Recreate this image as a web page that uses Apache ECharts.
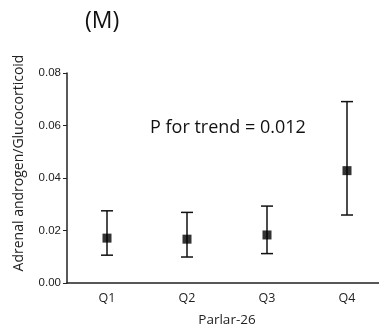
<!DOCTYPE html>
<html>
<head>
<meta charset="utf-8">
<script src="https://cdn.jsdelivr.net/npm/echarts@6/dist/echarts.min.js"></script>
<style>
  html, body { margin: 0; padding: 0; background: #fff; }
  #chart { width: 379px; height: 333px; }
</style>
</head>
<body>
<div id="chart"></div>
<script>
const categories = ['Q1', 'Q2', 'Q3', 'Q4']
const means = [0.0171, 0.0167, 0.0183, 0.0428]
const lower = [0.0106, 0.0099, 0.0112, 0.0259]
const upper = [0.0275, 0.0269, 0.0293, 0.0691]
const yTicks = [0, 0.02, 0.04, 0.06, 0.08]

const chart = echarts.init(document.getElementById('chart'))
const font = '"Open Sans", "Liberation Sans", sans-serif'

chart.setOption({
  animation: false,
  title: {
    text: '(M)',
    left: 80,
    top: 5,
    textStyle: { fontFamily: font, fontSize: 23, fontWeight: 'normal', color: '#111' }
  },
  grid: { left: 67, top: 73, width: 320, height: 210, outerBoundsMode: 'none', containLabel: false },
  xAxis: {
    type: 'category',
    data: categories,
    name: 'Parlar-26',
    nameLocation: 'middle',
    nameGap: 30,
    nameTextStyle: { fontFamily: font, fontSize: 13.5, color: '#222' },
    axisLine: { lineStyle: { color: '#222', width: 1.5 } },
    axisTick: { alignWithLabel: true, length: 4, lineStyle: { color: '#222' } },
    axisLabel: { fontFamily: font, fontSize: 12.5, color: '#222', margin: 9 }
  },
  yAxis: {
    type: 'value',
    min: yTicks[0],
    max: yTicks[yTicks.length - 1],
    interval: 0.02,
    axisLine: { show: true, lineStyle: { color: '#222', width: 1.5 } },
    axisTick: { show: true, length: 4, lineStyle: { color: '#222' } },
    splitLine: { show: false },
    axisLabel: {
      fontFamily: '"Liberation Sans Narrow", "Liberation Sans", sans-serif',
      fontSize: 11.5,
      color: '#222',
      margin: 6,
      formatter: (v) => v.toFixed(2)
    }
  },
  graphic: [
    {
      type: 'text',
      x: 19,
      y: 163,
      rotation: Math.PI / 2,
      style: {
        text: 'Adrenal androgen/Glucocorticoid',
        fontFamily: font,
        fontSize: 14,
        fill: '#222',
        align: 'center',
        verticalAlign: 'middle'
      }
    },
    {
      type: 'text',
      left: 150,
      top: 119,
      style: { text: 'P for trend = 0.012', fontFamily: font, fontSize: 18, fill: '#111' }
    }
  ],
  series: [
    {
      type: 'custom',
      data: categories.map((c, i) => [i, lower[i], upper[i]]),
      renderItem: (params, api) => {
        const lo = api.coord([api.value(0), api.value(1)])
        const hi = api.coord([api.value(0), api.value(2)])
        const cap = 6
        const style = { stroke: '#111', lineWidth: 1.5 }
        return {
          type: 'group',
          children: [
            { type: 'line', shape: { x1: hi[0], y1: hi[1], x2: lo[0], y2: lo[1] }, style },
            { type: 'line', shape: { x1: hi[0] - cap, y1: hi[1], x2: hi[0] + cap, y2: hi[1] }, style },
            { type: 'line', shape: { x1: lo[0] - cap, y1: lo[1], x2: lo[0] + cap, y2: lo[1] }, style }
          ]
        }
      },
      z: 2
    },
    {
      type: 'scatter',
      data: means,
      symbol: 'rect',
      symbolSize: 9,
      itemStyle: { color: '#000' },
      z: 3
    }
  ]
})
</script>
</body>
</html>
